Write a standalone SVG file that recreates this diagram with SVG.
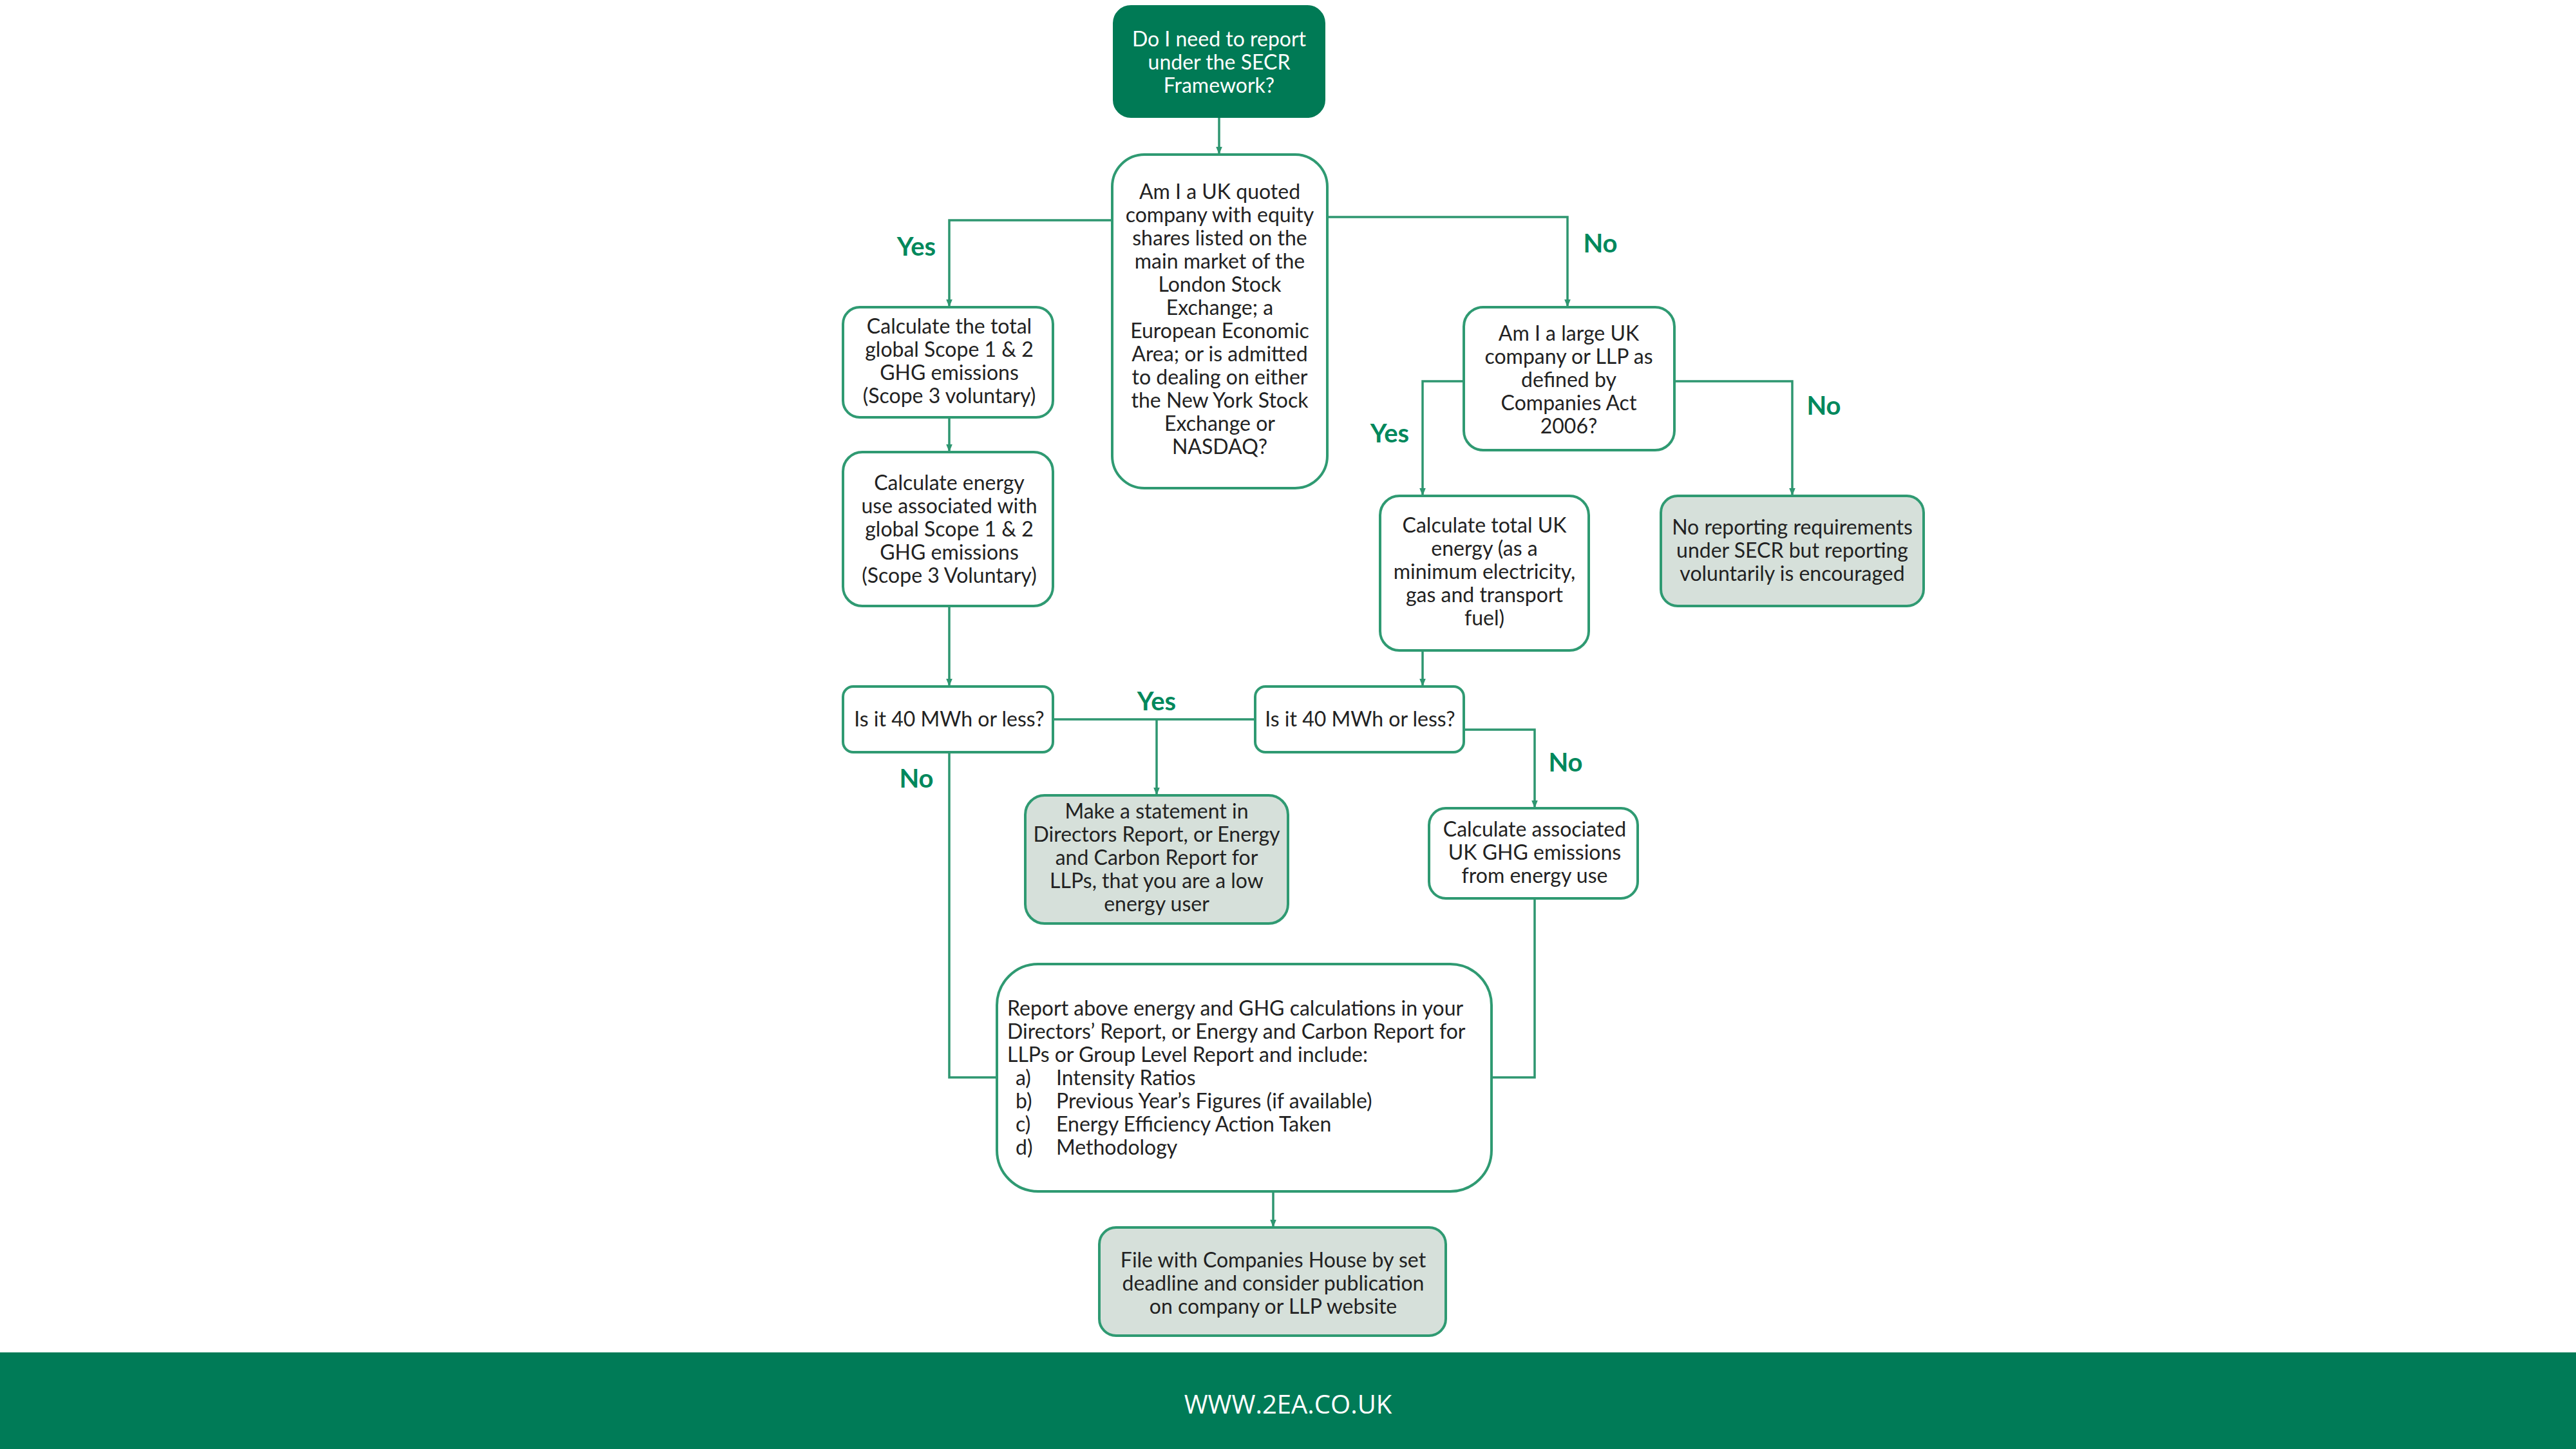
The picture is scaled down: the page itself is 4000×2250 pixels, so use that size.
<svg xmlns="http://www.w3.org/2000/svg" width="4000" height="2250" viewBox="0 0 4000 2250">
<defs>
<style>
.box{fill:#ffffff;stroke:#2f9a72;stroke-width:4}
.gbox{fill:#d6e0da;stroke:#2f9a72;stroke-width:4}
.dbox{fill:#007a55;stroke:#007a55;stroke-width:4}
.t{font-family:Lato,"Open Sans","Liberation Sans",sans-serif;font-size:32px;fill:#222222;text-anchor:middle}
.tl{font-family:Lato,"Open Sans","Liberation Sans",sans-serif;font-size:32px;fill:#222222}
.w{fill:#ffffff}
.lbl{font-family:Lato,"Open Sans","Liberation Sans",sans-serif;font-size:40px;font-weight:bold;fill:#00885c;text-anchor:middle}
.c{fill:none;stroke:#2e9670;stroke-width:3.5}
</style>
<marker id="ah" viewBox="0 0 10 10" refX="10" refY="5" markerWidth="12" markerHeight="12" markerUnits="userSpaceOnUse" orient="auto">
<path d="M0 1 L10 5 L0 9 Z" fill="#2e9670"/>
</marker>
</defs>
<rect width="4000" height="2250" fill="#ffffff"/>

<g id="connectors">
<path class="c" d="M1893 181 V240" marker-end="url(#ah)"/>
<path class="c" d="M1727 342 H1474 V477" marker-end="url(#ah)"/>
<path class="c" d="M2061 337 H2434 V477" marker-end="url(#ah)"/>
<path class="c" d="M1474 648 V702" marker-end="url(#ah)"/>
<path class="c" d="M1474 941 V1066" marker-end="url(#ah)"/>
<path class="c" d="M2273 592 H2209 V770" marker-end="url(#ah)"/>
<path class="c" d="M2600 592 H2783 V770" marker-end="url(#ah)"/>
<path class="c" d="M2209 1010 V1066" marker-end="url(#ah)"/>
<path class="c" d="M1635 1117 H1949"/>
<path class="c" d="M1796 1117 V1235" marker-end="url(#ah)"/>
<path class="c" d="M2273 1133 H2383 V1255" marker-end="url(#ah)"/>
<path class="c" d="M1474 1168 V1673 H1558" marker-end="url(#ah)"/>
<path class="c" d="M2383 1395 V1673 H2306" marker-end="url(#ah)"/>
<path class="c" d="M1977 1850 V1906" marker-end="url(#ah)"/>
<text class="lbl" x="1423" y="397">Yes</text>
<text class="lbl" x="2485" y="392">No</text>
<text class="lbl" x="2158" y="687">Yes</text>
<text class="lbl" x="2832" y="644">No</text>
<text class="lbl" x="1796" y="1103">Yes</text>
<text class="lbl" x="1423" y="1223">No</text>
<text class="lbl" x="2431" y="1198">No</text>
</g>

<g id="start">
<rect class="dbox" x="1730" y="10" width="326" height="171" rx="26"/>
<text class="t w" x="1893" y="72">Do I need to report</text>
<text class="t w" x="1893" y="108">under the SECR</text>
<text class="t w" x="1893" y="144">Framework?</text>
</g>

<g id="quoted">
<rect class="box" x="1727" y="240" width="334" height="518" rx="50"/>
<text class="t" x="1894" y="309">Am I a UK quoted</text>
<text class="t" x="1894" y="345">company with equity</text>
<text class="t" x="1894" y="381">shares listed on the</text>
<text class="t" x="1894" y="417">main market of the</text>
<text class="t" x="1894" y="453">London Stock</text>
<text class="t" x="1894" y="489">Exchange; a</text>
<text class="t" x="1894" y="525">European Economic</text>
<text class="t" x="1894" y="561">Area; or is admitted</text>
<text class="t" x="1894" y="597">to dealing on either</text>
<text class="t" x="1894" y="633">the New York Stock</text>
<text class="t" x="1894" y="669">Exchange or</text>
<text class="t" x="1894" y="705">NASDAQ?</text>
</g>

<g id="calc-global">
<rect class="box" x="1309" y="477" width="326" height="171" rx="26"/>
<text class="t" x="1474" y="518">Calculate the total</text>
<text class="t" x="1474" y="554">global Scope 1 &amp; 2</text>
<text class="t" x="1474" y="590">GHG emissions</text>
<text class="t" x="1474" y="626">(Scope 3 voluntary)</text>
</g>

<g id="calc-energy-global">
<rect class="box" x="1309" y="702" width="326" height="239" rx="30"/>
<text class="t" x="1474" y="761">Calculate energy</text>
<text class="t" x="1474" y="797">use associated with</text>
<text class="t" x="1474" y="833">global Scope 1 &amp; 2</text>
<text class="t" x="1474" y="869">GHG emissions</text>
<text class="t" x="1474" y="905">(Scope 3 Voluntary)</text>
</g>

<g id="large-uk">
<rect class="box" x="2273" y="477" width="327" height="222" rx="30"/>
<text class="t" x="2436" y="529">Am I a large UK</text>
<text class="t" x="2436" y="565">company or LLP as</text>
<text class="t" x="2436" y="601">defined by</text>
<text class="t" x="2436" y="637">Companies Act</text>
<text class="t" x="2436" y="673">2006?</text>
</g>

<g id="calc-uk-energy">
<rect class="box" x="2143" y="770" width="324" height="240" rx="30"/>
<text class="t" x="2305" y="827">Calculate total UK</text>
<text class="t" x="2305" y="863">energy (as a</text>
<text class="t" x="2305" y="899">minimum electricity,</text>
<text class="t" x="2305" y="935">gas and transport</text>
<text class="t" x="2305" y="971">fuel)</text>
</g>

<g id="no-reporting">
<rect class="gbox" x="2579" y="770" width="408" height="171" rx="26"/>
<text class="t" x="2783" y="830">No reporting requirements</text>
<text class="t" x="2783" y="866">under SECR but reporting</text>
<text class="t" x="2783" y="902">voluntarily is encouraged</text>
</g>

<g id="mwh-left">
<rect class="box" x="1309" y="1066" width="326" height="102" rx="16"/>
<text class="t" x="1474" y="1128">Is it 40 MWh or less?</text>
</g>

<g id="mwh-right">
<rect class="box" x="1949" y="1066" width="324" height="102" rx="16"/>
<text class="t" x="2112" y="1128">Is it 40 MWh or less?</text>
</g>

<g id="low-energy">
<rect class="gbox" x="1592" y="1235" width="408" height="199" rx="30"/>
<text class="t" x="1796" y="1271">Make a statement in</text>
<text class="t" x="1796" y="1307">Directors Report, or Energy</text>
<text class="t" x="1796" y="1343">and Carbon Report for</text>
<text class="t" x="1796" y="1379">LLPs, that you are a low</text>
<text class="t" x="1796" y="1415">energy user</text>
</g>

<g id="calc-uk-ghg">
<rect class="box" x="2219" y="1255" width="324" height="140" rx="26"/>
<text class="t" x="2383" y="1299">Calculate associated</text>
<text class="t" x="2383" y="1335">UK GHG emissions</text>
<text class="t" x="2383" y="1371">from energy use</text>
</g>

<g id="report">
<rect class="box" x="1548" y="1497" width="768" height="353" rx="64"/>
<text class="tl" x="1564" y="1577">Report above energy and GHG calculations in your</text>
<text class="tl" x="1564" y="1613">Directors’ Report, or Energy and Carbon Report for</text>
<text class="tl" x="1564" y="1649">LLPs or Group Level Report and include:</text>
<text class="tl" x="1577" y="1685">a)</text><text class="tl" x="1640" y="1685">Intensity Ratios</text>
<text class="tl" x="1577" y="1721">b)</text><text class="tl" x="1640" y="1721">Previous Year’s Figures (if available)</text>
<text class="tl" x="1577" y="1757">c)</text><text class="tl" x="1640" y="1757">Energy Efficiency Action Taken</text>
<text class="tl" x="1577" y="1793">d)</text><text class="tl" x="1640" y="1793">Methodology</text>
</g>

<g id="file">
<rect class="gbox" x="1707" y="1906" width="538" height="168" rx="26"/>
<text class="t" x="1977" y="1968">File with Companies House by set</text>
<text class="t" x="1977" y="2004">deadline and consider publication</text>
<text class="t" x="1977" y="2040">on company or LLP website</text>
</g>

<g id="footer">
<rect x="0" y="2100" width="4000" height="150" fill="#007b57"/>
<text x="2000" y="2195" font-family="'Open Sans','Liberation Sans',sans-serif" font-size="40" fill="#ffffff" text-anchor="middle">WWW.2EA.CO.UK</text>
</g>
</svg>
